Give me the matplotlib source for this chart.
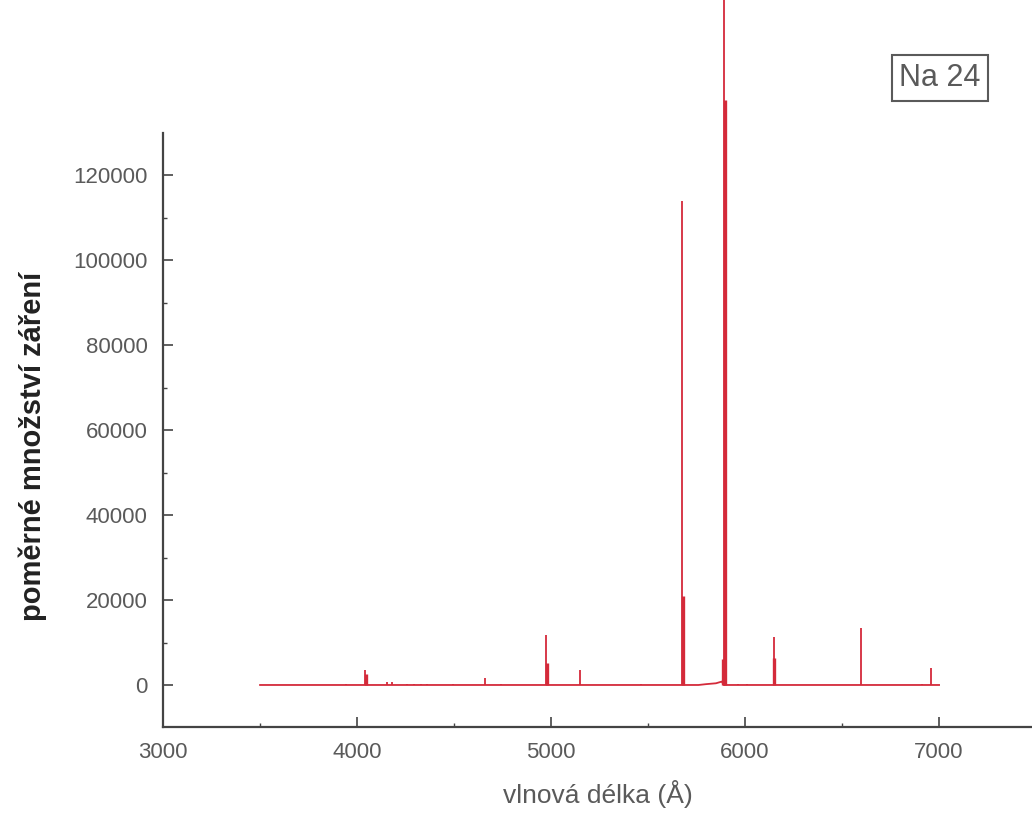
import matplotlib
matplotlib.use("Agg")
import matplotlib.pyplot as plt
from matplotlib.ticker import MultipleLocator

# emission lines (wavelength in angstrom, relative intensity)
thin_wl = [3945, 4041, 4155, 4180, 4257, 4292, 4328, 4359, 4497, 4662, 4744,
           4976, 5148, 5462, 5677, 5890, 5965, 6010, 6147, 6595, 6910, 6959]
thin_int = [300, 3500, 800, 600, 300, 300, 300, 300, 300, 1600, 300,
            11800, 3500, 300, 114000, 175000, 300, 300, 11400, 13400, 300, 4000]

strong_wl = [4046, 4980, 5682, 5884, 5896, 6150]
strong_int = [2500, 5200, 21000, 6000, 137800, 6300]

base_wl = [3500, 5760, 5800, 5850, 5880, 5890, 7000]
base_int = [0, 0, 200, 400, 800, 0, 0]

x_ticks = [3000, 4000, 5000, 6000, 7000]
y_ticks = [0, 20000, 40000, 60000, 80000, 100000, 120000]

red = "#d42a3a"
grey = "#5a5a5a"

plt.rcParams['font.family'] = ['Liberation Sans', 'DejaVu Sans']

fig = plt.figure(figsize=(10.32, 8.18), dpi=100)
ax = fig.add_axes([0.158, 0.1112, 0.842, 0.726])

ax.plot(base_wl, base_int, color=red, lw=1.3)
ax.vlines(thin_wl, 0, thin_int, color=red, lw=1.3, clip_on=False)
ax.vlines(strong_wl, 0, strong_int, color=red, lw=2.4, clip_on=False)

ax.set_xlim(3000, 7479)
ax.set_ylim(-9900, 129900)
ax.set_xticks(x_ticks)
ax.set_yticks(y_ticks)
ax.xaxis.set_minor_locator(MultipleLocator(500))
ax.yaxis.set_minor_locator(MultipleLocator(10000))

for s in ['top', 'right']:
    ax.spines[s].set_visible(False)
for s in ['left', 'bottom']:
    ax.spines[s].set_color("#444444")
    ax.spines[s].set_linewidth(1.6)

ax.tick_params(which='major', direction='in', length=7, width=1.2,
               color="#444444", labelsize=16, labelcolor=grey, pad=11)
ax.tick_params(which='minor', direction='in', length=3, width=1.0,
               color="#444444")

ax.set_xlabel("vlnová délka (Å)", fontsize=19, color=grey, labelpad=12)
ax.set_ylabel("poměrné množství záření", fontsize=21, fontweight='bold',
              color="#222222")
ax.yaxis.set_label_coords(-0.133, 0.473)

fig.text(940 / 1032, 1 - 78 / 818, "Na 24", fontsize=22, color=grey,
         ha='center', va='center',
         bbox=dict(boxstyle='square,pad=0.25', fc='white', ec=grey, lw=1.5))

fig.savefig("out.png", dpi=100)
